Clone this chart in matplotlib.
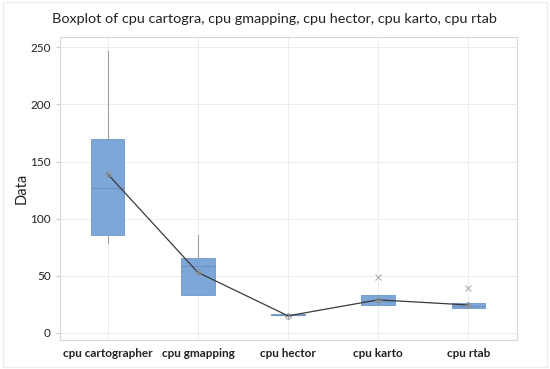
import matplotlib
matplotlib.use("Agg")
import matplotlib.pyplot as plt
from matplotlib.patches import Rectangle

categories = ["cpu cartographer", "cpu gmapping", "cpu hector", "cpu karto", "cpu rtab"]
q1 = [86, 33, 15.5, 24.5, 22]
median = [127, 59, 16, 28, 24]
q3 = [170, 65.5, 16.5, 33, 26]
whis_lo = [79, 33, 15.5, 24.5, 22]
whis_hi = [247, 86, 16.5, 33, 26]
means = [139, 53, 15, 29, 24.5]
outliers = [[], [], [], [49], [39]]
yticks = [0, 50, 100, 150, 200, 250]

plt.rcParams['font.family'] = ['Lato', 'DejaVu Sans']

fig = plt.figure(figsize=(5.5, 3.69), dpi=100)
ax = fig.add_axes([0.109, 0.079, 0.831, 0.821])

stats = []
for i in range(len(categories)):
    stats.append(dict(q1=q1[i], med=median[i], q3=q3[i], whislo=whis_lo[i],
                      whishi=whis_hi[i], mean=means[i], fliers=outliers[i], label=categories[i]))

pos = list(range(len(categories)))
ax.bxp(stats, positions=pos, widths=0.37, patch_artist=True, showmeans=False, showcaps=False,
       boxprops=dict(facecolor="#7da7d9", edgecolor="#6f97c9", linewidth=0.6),
       medianprops=dict(color="#6f93c0", linewidth=0.8),
       whiskerprops=dict(color="#a0a0a0", linewidth=0.8),
       flierprops=dict(marker="x", markeredgecolor="#b0b0b0", markersize=4, markeredgewidth=0.8))
ax.plot(pos, means, color="#3a3a3a", linewidth=0.9, zorder=4)
ax.plot(pos, means, linestyle="none", marker="o", markersize=4, markerfacecolor="none",
        markeredgecolor="#909090", markeredgewidth=0.6, zorder=5)
ax.plot(pos, means, linestyle="none", marker="+", markersize=4,
        markeredgecolor="#909090", markeredgewidth=0.6, zorder=5)

ax.set_xlim(-0.53, 4.54)
ax.set_ylim(-6, 259)
ax.set_yticks(yticks)
ax.set_xticks(pos)
ax.set_xticklabels(categories, fontsize=8.5, fontweight="bold", color="#222222")
ax.tick_params(axis="y", labelsize=8.5, colors="#222222", length=3, color="#cccccc")
ax.tick_params(axis="x", length=0, pad=6)
ax.set_ylabel("Data", fontsize=10.5, color="#222222")
ax.yaxis.set_label_coords(-0.068, 0.5)
ax.grid(True, color="#ececec", linewidth=0.7)
ax.set_axisbelow(True)
for s in ax.spines.values():
    s.set_color("#d8d8d8")
    s.set_linewidth(0.8)

fig.suptitle("Boxplot of cpu cartogra, cpu gmapping, cpu hector, cpu karto, cpu rtab",
             fontsize=10.4, y=0.965, x=0.499, color="#222222")
fig.patches.append(Rectangle((0.005, 0.005), 0.99, 0.99, transform=fig.transFigure,
                             fill=False, edgecolor="#ececec", linewidth=0.8))

fig.savefig("out.png", dpi=100)
